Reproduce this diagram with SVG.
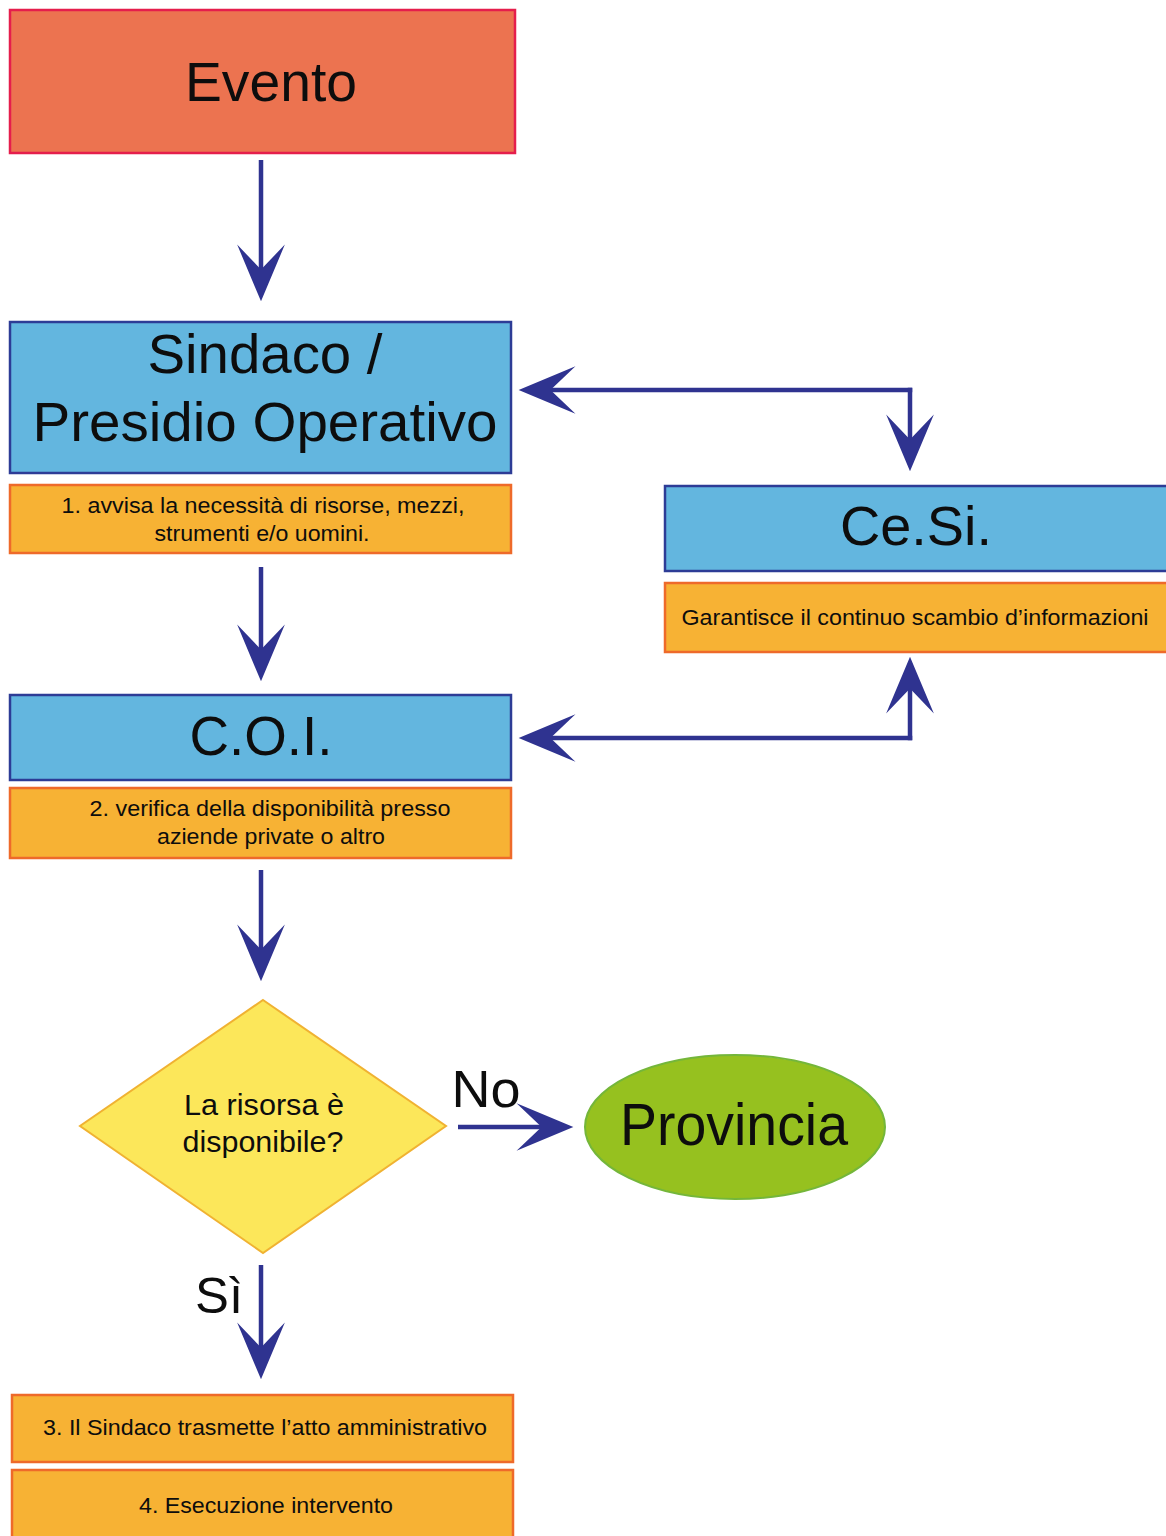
<svg xmlns="http://www.w3.org/2000/svg" width="1166" height="1536" viewBox="0 0 1166 1536">
<style>
text{font-family:"Liberation Sans",Arial,sans-serif;fill:#0d0d0d;text-anchor:middle}
.big{font-size:56px}
.small{font-size:22px}
.blue{fill:#63B6DF;stroke:#2D3C96;stroke-width:2.5}
.orange{fill:#F7B234;stroke:#EE6A2A;stroke-width:2.5}
.conn{fill:none;stroke:#2F3390;stroke-width:4.5}
.elbow{stroke-linecap:square}
</style>
<defs>
<marker id="ah" markerUnits="userSpaceOnUse" markerWidth="60" markerHeight="50" viewBox="0 0 52 44" refX="41" refY="22" orient="auto">
<path d="M51,22 L1,1 L23,22 L1,43 Z" fill="#2F3390"/>
</marker>
</defs>
<rect width="1166" height="1536" fill="#fff"/>

<g id="evento">
<rect x="10" y="10" width="505" height="143" fill="#EC7350" stroke="#E51E4C" stroke-width="2.5"/>
<text class="big" x="271" y="101" textLength="172" lengthAdjust="spacingAndGlyphs">Evento</text>
</g>

<g id="sindaco">
<rect class="blue" x="10" y="322" width="501" height="151"/>
<text class="big" x="265" y="373" textLength="235" lengthAdjust="spacingAndGlyphs">Sindaco /</text>
<text class="big" x="265" y="441" textLength="465" lengthAdjust="spacingAndGlyphs">Presidio Operativo</text>
</g>

<g id="step1">
<rect class="orange" x="10" y="485" width="501" height="68"/>
<text class="small" x="263" y="513" textLength="403" lengthAdjust="spacingAndGlyphs">1. avvisa la necessità di risorse, mezzi,</text>
<text class="small" x="262" y="541" textLength="215" lengthAdjust="spacingAndGlyphs">strumenti e/o uomini.</text>
</g>

<g id="coi">
<rect class="blue" x="10" y="695" width="501" height="85"/>
<text class="big" x="261" y="755" textLength="143" lengthAdjust="spacingAndGlyphs">C.O.I.</text>
</g>

<g id="step2">
<rect class="orange" x="10" y="788" width="501" height="70"/>
<text class="small" x="270" y="816" textLength="361" lengthAdjust="spacingAndGlyphs">2. verifica della disponibilità presso</text>
<text class="small" x="271" y="844" textLength="228" lengthAdjust="spacingAndGlyphs">aziende private o altro</text>
</g>

<g id="cesi">
<rect class="blue" x="665" y="486" width="510" height="85"/>
<text class="big" x="916" y="545" textLength="152" lengthAdjust="spacingAndGlyphs">Ce.Si.</text>
</g>

<g id="cesi-note">
<rect class="orange" x="665" y="583" width="510" height="69"/>
<text class="small" x="915" y="625" font-size="24" textLength="467" lengthAdjust="spacingAndGlyphs">Garantisce il continuo scambio d’informazioni</text>
</g>

<g id="decisione">
<polygon points="263,1000 446,1126 263,1253 80,1126" fill="#FCE75A" stroke="#F0B232" stroke-width="2"/>
<text x="264" y="1115" font-size="29" textLength="160" lengthAdjust="spacingAndGlyphs">La risorsa è</text>
<text x="263" y="1152" font-size="29" textLength="161" lengthAdjust="spacingAndGlyphs">disponibile?</text>
</g>

<g id="provincia">
<ellipse cx="735" cy="1127" rx="150" ry="72" fill="#96C11F" stroke="#74B63A" stroke-width="2"/>
<text x="734" y="1145" font-size="60" textLength="228" lengthAdjust="spacingAndGlyphs">Provincia</text>
</g>

<g id="step3">
<rect class="orange" x="12" y="1395" width="501" height="67"/>
<text class="small" x="265" y="1435" font-size="23" textLength="444" lengthAdjust="spacingAndGlyphs">3. Il Sindaco trasmette l’atto amministrativo</text>
</g>

<g id="step4">
<rect class="orange" x="12" y="1470" width="501" height="80"/>
<text class="small" x="266" y="1513" font-size="23" textLength="254" lengthAdjust="spacingAndGlyphs">4. Esecuzione intervento</text>
</g>

<g id="connectors">
<line class="conn" x1="261" y1="160" x2="261" y2="290" marker-end="url(#ah)"/>
<line class="conn" x1="261" y1="567" x2="261" y2="670" marker-end="url(#ah)"/>
<line class="conn" x1="261" y1="870" x2="261" y2="970" marker-end="url(#ah)"/>
<line class="conn" x1="458" y1="1127" x2="562" y2="1127" marker-end="url(#ah)"/>
<line class="conn" x1="261" y1="1265" x2="261" y2="1368" marker-end="url(#ah)"/>
<path class="conn elbow" d="M910,390 H530" marker-end="url(#ah)"/>
<path class="conn elbow" d="M910,390 V460" marker-end="url(#ah)"/>
<path class="conn elbow" d="M910,738 H530" marker-end="url(#ah)"/>
<path class="conn elbow" d="M910,738 V668" marker-end="url(#ah)"/>
<text x="486" y="1107" font-size="52" textLength="69" lengthAdjust="spacingAndGlyphs">No</text>
<text x="219" y="1313" font-size="50" textLength="48" lengthAdjust="spacingAndGlyphs">Sì</text>
</g>
</svg>
